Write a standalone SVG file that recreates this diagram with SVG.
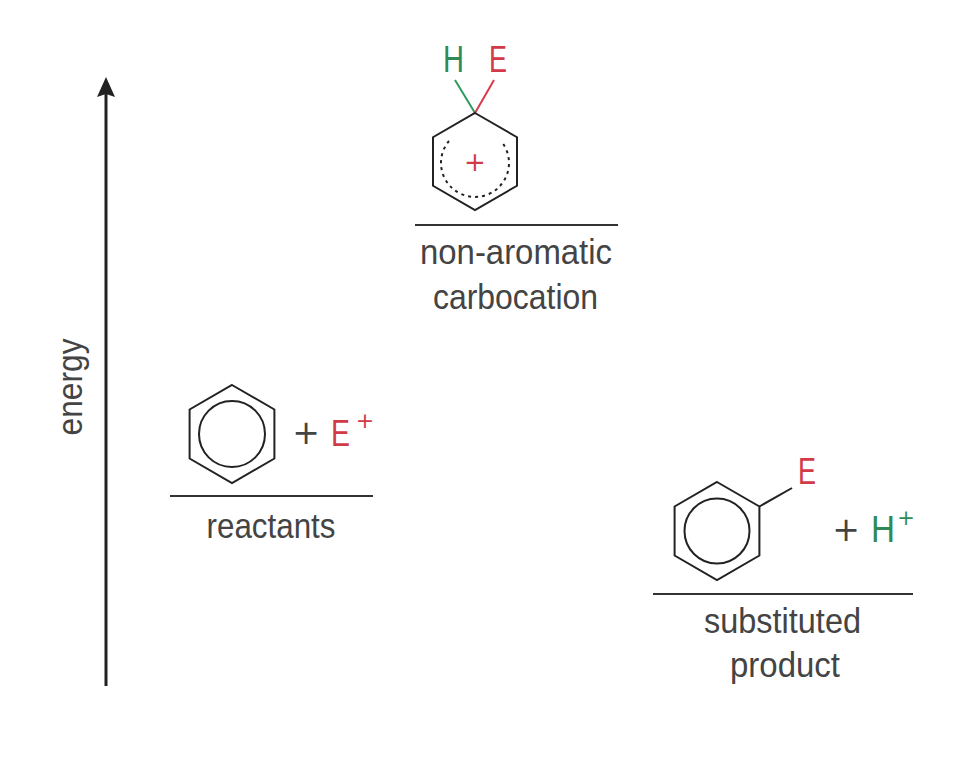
<svg xmlns="http://www.w3.org/2000/svg" width="980" height="774" viewBox="0 0 980 774">
<style>
.lbl{font-family:"Liberation Sans",Arial,sans-serif;font-size:35px;fill:#444;text-anchor:middle}
.sym{font-family:"Liberation Sans",Arial,sans-serif;font-size:36px}
.pl{font-family:"DejaVu Sans","Liberation Sans",sans-serif;text-anchor:middle}
.red{fill:#d23a48}
.grn{fill:#2f8a58}
.op{fill:#444;font-size:33px}
.ring{fill:none;stroke:#222;stroke-width:2;stroke-linejoin:miter}
.lvl{stroke:#333;stroke-width:2}
</style>
<rect width="980" height="774" fill="#fff"/>
<g id="connectors">
<line x1="106" y1="686" x2="106" y2="92" stroke="#222" stroke-width="3"/>
<polygon points="106,77 97,97 106,94 115,97" fill="#222"/>
</g>
<g id="axis-label">
<text class="lbl" transform="translate(82,387) rotate(-90)" textLength="97" lengthAdjust="spacingAndGlyphs">energy</text>
</g>
<g id="reactants">
<polygon class="ring" points="232,385 274.4,409.5 274.4,458.5 232,483 189.6,458.5 189.6,409.5"/>
<circle class="ring" cx="232" cy="434" r="33"/>
<text class="pl op" x="306" y="444">+</text>
<text class="sym red" x="331" y="446" textLength="19" lengthAdjust="spacingAndGlyphs">E</text>
<text class="pl red" x="365" y="428" style="font-size:22px">+</text>
<line class="lvl" x1="170" y1="496" x2="373" y2="496"/>
<text class="lbl" x="271" y="538" textLength="129" lengthAdjust="spacingAndGlyphs">reactants</text>
</g>
<g id="carbocation">
<line x1="455" y1="80" x2="475" y2="113" stroke="#2e9a5e" stroke-width="2"/>
<line x1="494" y1="80" x2="475" y2="113" stroke="#d83a4a" stroke-width="2"/>
<text class="sym grn" x="443" y="72" textLength="21" lengthAdjust="spacingAndGlyphs">H</text>
<text class="sym red" x="489" y="72" textLength="18" lengthAdjust="spacingAndGlyphs">E</text>
<polygon class="ring" points="475,113 517,137.25 517,185.75 475,210 433,185.75 433,137.25"/>
<path d="M449,141 A34,34 0 1 0 501,141" fill="none" stroke="#222" stroke-width="2" stroke-dasharray="3,4"/>
<text class="pl red" x="475" y="171" style="font-size:26px">+</text>
<line class="lvl" x1="415" y1="225" x2="618" y2="225"/>
<text class="lbl" x="516" y="264" textLength="192" lengthAdjust="spacingAndGlyphs">non-aromatic</text>
<text class="lbl" x="515.5" y="309" textLength="165" lengthAdjust="spacingAndGlyphs">carbocation</text>
</g>
<g id="product">
<polygon class="ring" points="717,482 759.4,506.5 759.4,555.5 717,580 674.6,555.5 674.6,506.5"/>
<circle class="ring" cx="717" cy="531" r="32.5"/>
<line x1="759.4" y1="506.5" x2="792" y2="488" stroke="#222" stroke-width="2"/>
<text class="sym red" x="798" y="484" textLength="18" lengthAdjust="spacingAndGlyphs">E</text>
<text class="pl op" x="846" y="541">+</text>
<text class="sym grn" x="871" y="542" textLength="24" lengthAdjust="spacingAndGlyphs">H</text>
<text class="pl grn" x="906" y="525" style="font-size:21px">+</text>
<line class="lvl" x1="653" y1="594" x2="913" y2="594"/>
<text class="lbl" x="782.5" y="633" textLength="157" lengthAdjust="spacingAndGlyphs">substituted</text>
<text class="lbl" x="785" y="677" textLength="110" lengthAdjust="spacingAndGlyphs">product</text>
</g>
</svg>
